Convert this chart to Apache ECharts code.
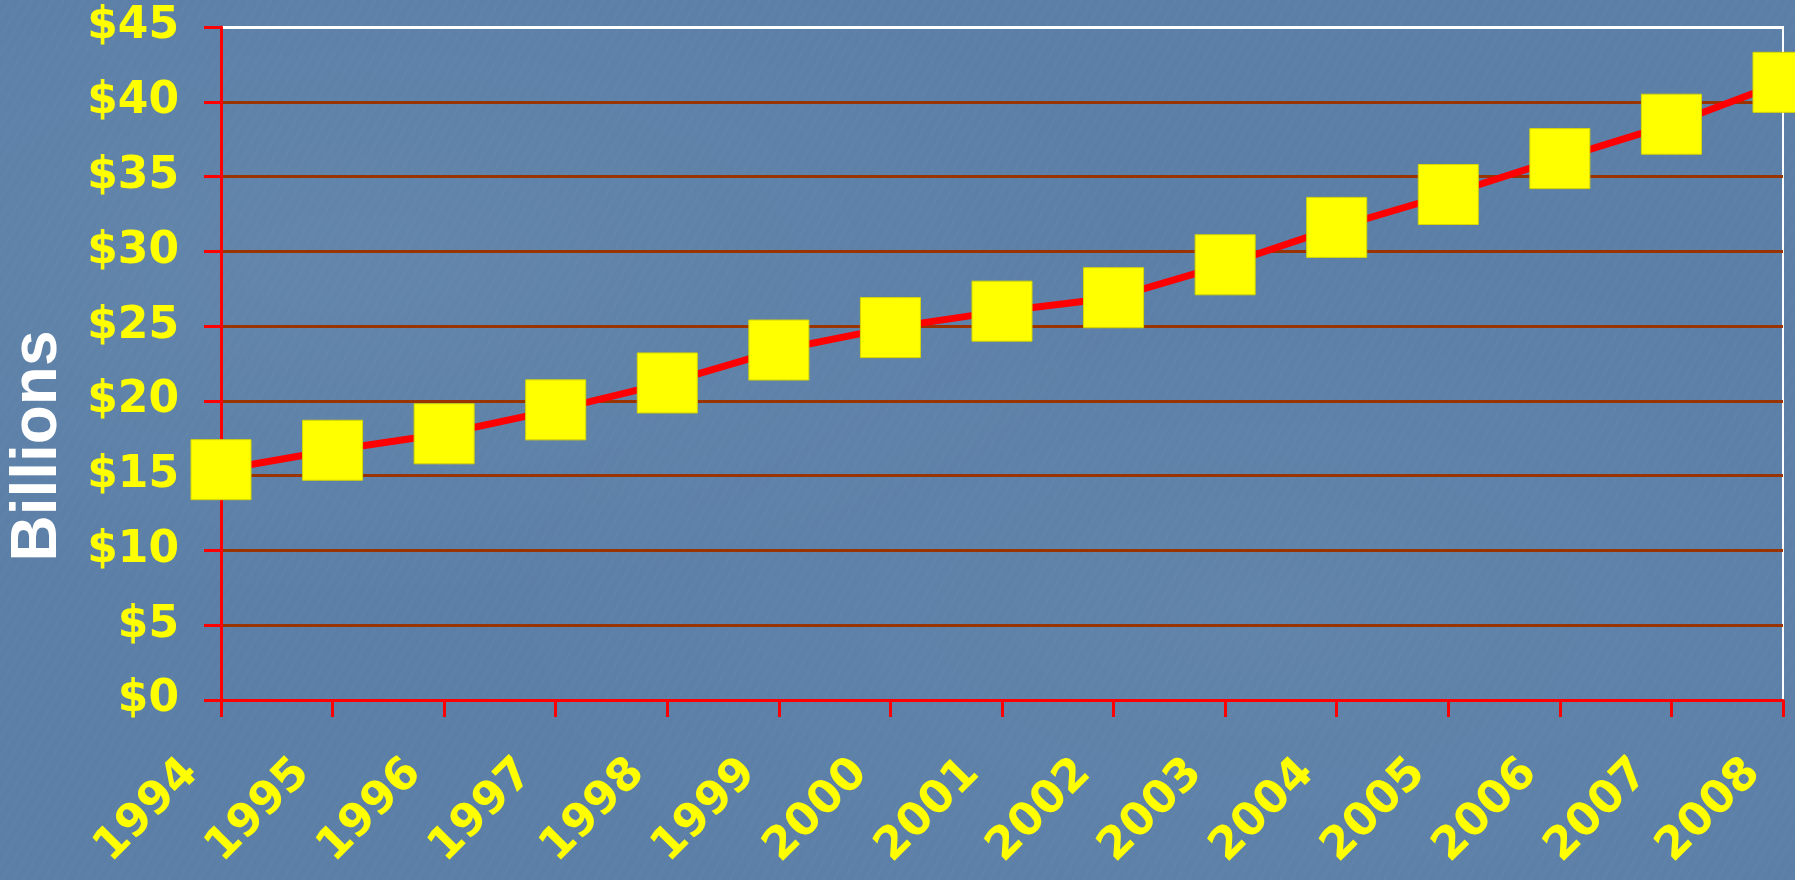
<!DOCTYPE html>
<html>
<head>
<meta charset="utf-8">
<script src="https://cdn.jsdelivr.net/npm/echarts@6/dist/echarts.min.js"></script>
<style>
html,body{margin:0;padding:0;width:1795px;height:880px;overflow:hidden;}
body{
  background-color:#5b7fa7;
  background-image:
    radial-gradient(ellipse at 20% 30%, rgba(255,255,255,0.05), rgba(255,255,255,0) 40%),
    radial-gradient(ellipse at 70% 70%, rgba(255,255,255,0.04), rgba(255,255,255,0) 45%),
    repeating-linear-gradient(120deg, rgba(255,255,255,0.015) 0px, rgba(255,255,255,0.015) 2px, rgba(0,0,0,0) 2px, rgba(0,0,0,0) 9px);
}
#c{width:1795px;height:880px;}
</style>
</head>
<body>
<div id="c"></div>
<script>
// ---- data ----
const years = ['1994','1995','1996','1997','1998','1999','2000','2001','2002','2003','2004','2005','2006','2007','2008'];
const spending = [15.4, 16.7, 17.8, 19.4, 21.2, 23.4, 24.9, 26.0, 26.9, 29.1, 31.6, 33.8, 36.2, 38.5, 41.3];
const yMin = 0, yMax = 45, yStep = 5;
const yAxisTitle = 'Billions';

const brown = '#993300';
const splitColors = [];
for (let v = yMin; v <= yMax; v += yStep) splitColors.push(v === yMax ? '#ffffff' : brown);

const chart = echarts.init(document.getElementById('c'), null, {renderer: 'canvas'});
chart.setOption({
  backgroundColor: 'transparent',
  animation: false,
  grid: {
    left: 221, right: 12, top: 27, bottom: 180,
    containLabel: false,
    outerBoundsMode: 'none',
    show: true,
    borderColor: '#ffffff',
    borderWidth: 2,
    backgroundColor: 'transparent'
  },
  graphic: [{
    type: 'text',
    x: 38, y: 446,
    rotation: Math.PI / 2,
    style: {
      text: yAxisTitle,
      fill: '#ffffff',
      font: 'bold 64px "Liberation Sans"',
      align: 'center',
      verticalAlign: 'middle'
    },
    silent: true
  }],
  xAxis: {
    type: 'category',
    data: years,
    boundaryGap: false,
    axisLine: {show: true, lineStyle: {color: '#ff0000', width: 3}},
    axisTick: {show: true, alignWithLabel: true, inside: false, length: 17, lineStyle: {color: '#ff0000', width: 3}},
    splitLine: {show: false},
    axisLabel: {
      interval: 0,
      hideOverlap: false,
      rotate: 45,
      margin: 96,
      verticalAlign: 'bottom',
      lineHeight: 84,
      color: '#ffff00',
      fontFamily: 'DejaVu Sans',
      fontWeight: 'bold',
      fontSize: 45
    }
  },
  yAxis: {
    type: 'value',
    min: yMin, max: yMax, interval: yStep,
    axisLine: {show: true, lineStyle: {color: '#ff0000', width: 3}},
    axisTick: {show: true, inside: false, length: 17, lineStyle: {color: '#ff0000', width: 3}},
    splitLine: {show: true, lineStyle: {color: splitColors, width: 3}},
    axisLabel: {
      margin: 42,
      formatter: v => '$' + v,
      color: '#ffff00',
      fontFamily: 'DejaVu Sans',
      fontWeight: 'bold',
      fontSize: 44
    }
  },
  series: [{
    type: 'line',
    data: spending,
    clip: false,
    symbol: 'rect',
    symbolSize: 60,
    lineStyle: {color: '#ff0000', width: 7},
    itemStyle: {color: '#ffff00', borderColor: '#d6d600', borderWidth: 1},
    emphasis: {disabled: true}
  }]
});
</script>
</body>
</html>
